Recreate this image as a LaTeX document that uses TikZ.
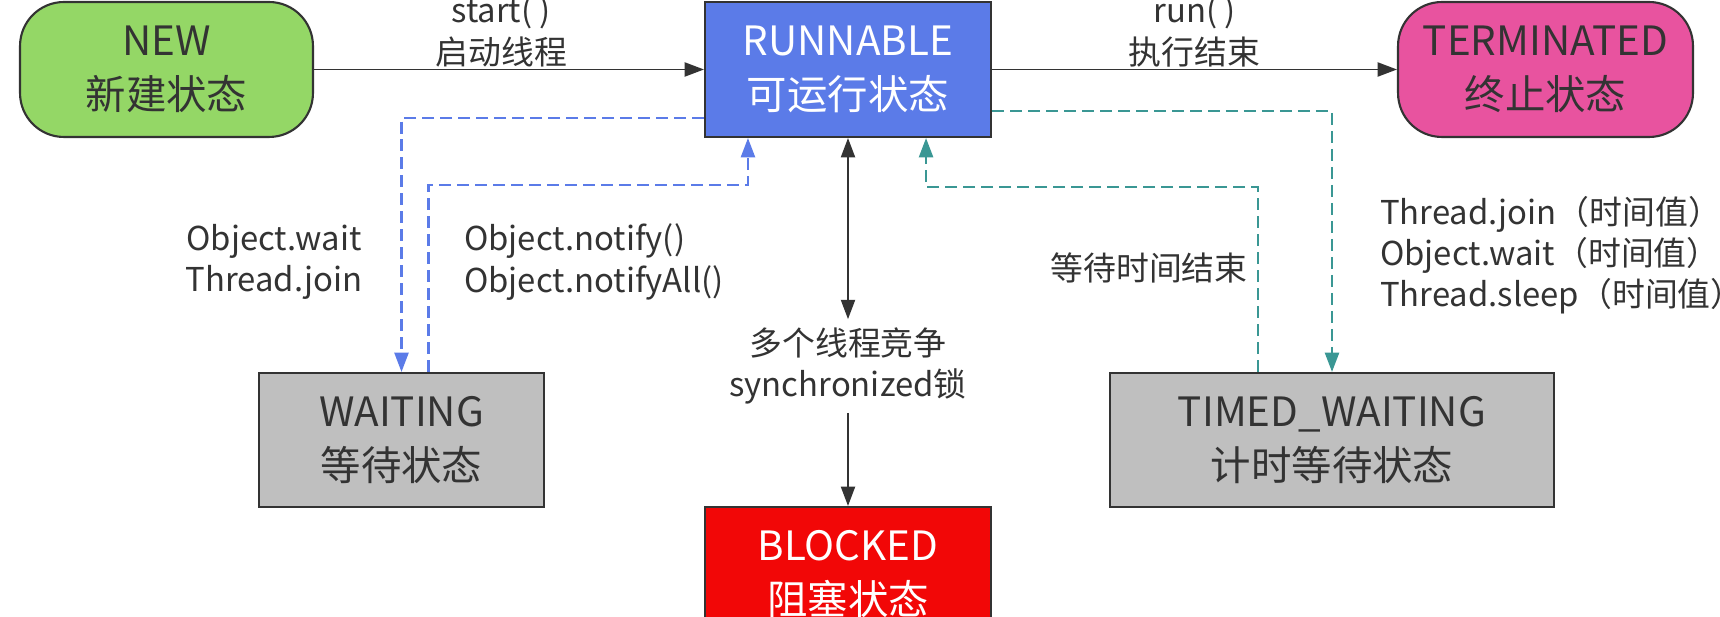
\documentclass[tikz,border=0pt]{standalone}
\usepackage{fontspec}
\setmainfont{Noto Sans CJK SC}
\usepackage{tikz}
\usetikzlibrary{arrows.meta}
\usepackage{xcolor}

\definecolor{newgreen}{HTML}{94D766}
\definecolor{runblue}{HTML}{5B7BE8}
\definecolor{termpink}{HTML}{E8539F}
\definecolor{waitgray}{HTML}{BFBFBF}
\definecolor{blockred}{HTML}{F20707}
\definecolor{inkgray}{HTML}{333333}
\definecolor{timeteal}{HTML}{3A9794}

\tikzset{
  >={Triangle[length=11pt,width=8pt]},
  statebox/.style={rectangle, draw=inkgray, line width=1.2pt, minimum height=2.7cm,
    inner sep=0pt, align=center, text=inkgray, font=\fontsize{23pt}{31pt}\selectfont},
  capsule/.style={statebox, rounded corners=25pt},
  lbl/.style={align=center, text=inkgray, inner sep=1pt, font=\fontsize{18.7pt}{23.5pt}\selectfont},
  flow/.style={draw=inkgray, line width=1.1pt, ->},
  waitflow/.style={flow, draw=runblue, line width=1.3pt, dash pattern=on 0.24cm off 0.12cm},
  timeflow/.style={flow, draw=timeteal, line width=1.3pt, dash pattern=on 0.24cm off 0.12cm}
}

\begin{document}
\begin{tikzpicture}[x=0.02cm, y=-0.02cm]
          % Canvas
          \useasboundingbox (0,0) rectangle (1720,617);
          \clip (0,0) rectangle (1720,617);

          % States
          \node[capsule, fill=newgreen, minimum width=5.86cm] (new) at (166.5,69.5) {NEW\\新建状态};
          \node[statebox, fill=runblue, text=white, minimum width=5.72cm] (runnable) at (848,69.5) {RUNNABLE\\可运行状态};
          \node[capsule, fill=termpink, minimum width=5.9cm] (terminated) at (1545.5,69.5) {TERMINATED\\终止状态};
          \node[statebox, fill=waitgray, minimum width=5.7cm, minimum height=2.68cm] (waiting) at (401.5,440) {WAITING\\等待状态};
          \node[statebox, fill=waitgray, minimum width=8.88cm, minimum height=2.68cm] (timed) at (1332,440) {TIMED\_WAITING\\计时等待状态};
          \node[statebox, fill=blockred, text=white, minimum width=5.72cm, minimum height=2.68cm] (blocked) at (848,574) {BLOCKED\\阻塞状态};

          % Lock label
          \node[lbl, inner sep=0pt, minimum height=1.86cm] (lock) at (848,366) {多个线程竞争\\synchronized锁};

          % Solid transitions
          \draw[flow] (new) -- node[lbl, above, pos=0.48] {start( )\\启动线程} (runnable);
          \draw[flow] (runnable) -- node[lbl, above] {run( )\\执行结束} (terminated);
          \draw[flow, <->] (runnable) -- (lock);
          \draw[flow] (lock) -- (blocked);

          % Waiting loop
          \draw[waitflow] ([yshift=0.4cm]runnable.south west) -| (waiting.north);
          \draw[waitflow] ([xshift=0.54cm]waiting.north) -- ++(0,-187) -| ([xshift=0.88cm]runnable.south west);

          % Timed waiting loop
          \draw[timeflow] ([yshift=0.54cm]runnable.south east) -| (timed.north);
          \draw[timeflow] ([xshift=-1.48cm]timed.north) -- ++(0,-185) -| ([xshift=-1.32cm]runnable.south east);

          % Loop labels
          \node[lbl] (waitlbl) at (274,262) {Object.wait\\Thread.join};
          \node[lbl, align=left] (notifylbl) at (594,262) {Object.notify()\\Object.notifyAll()};
          \node[lbl] (timeoutlbl) at (1149,268) {等待时间结束};
          \node[lbl, align=left, anchor=west] (timedlbl) at (1378,255) {Thread.join（时间值）\\Object.wait（时间值）\\Thread.sleep（时间值）};

        \end{tikzpicture}
\end{document}
